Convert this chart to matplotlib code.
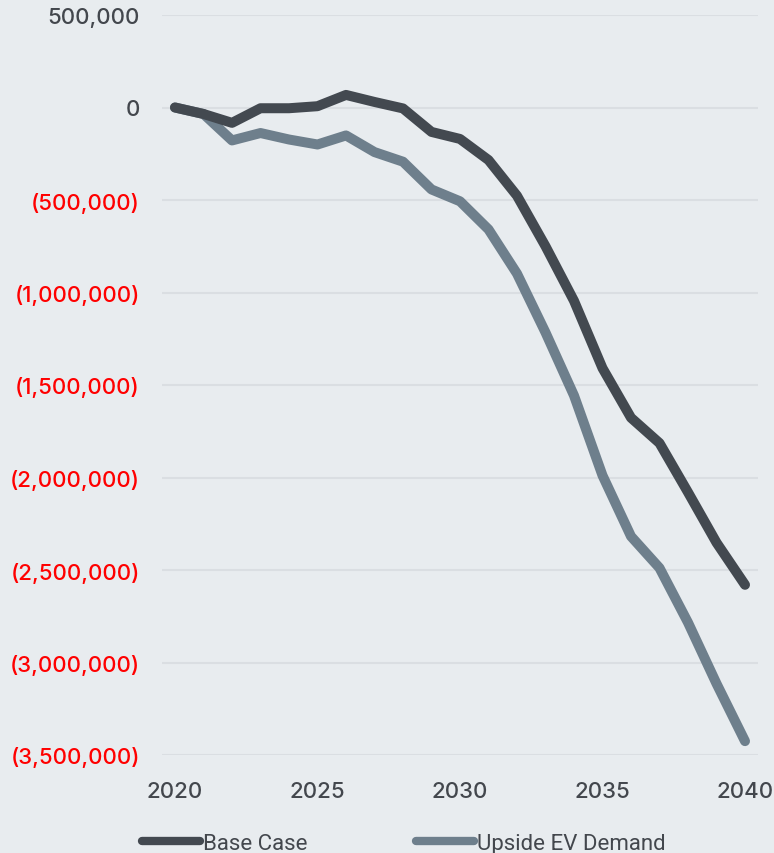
import matplotlib
matplotlib.use("Agg")
import matplotlib.pyplot as plt
from matplotlib.ticker import FuncFormatter

years = list(range(2020, 2041))
base_case = [0, -35000, -83000, -4000, -4000, 7000, 68000, 30000, -5000,
             -132000, -170000, -284000, -477000, -750000, -1045000, -1409000,
             -1677000, -1814000, -2080000, -2352000, -2580000]
upside_ev = [0, -35000, -178000, -138000, -173000, -200000, -151000, -241000,
             -293000, -443000, -507000, -659000, -898000, -1216000, -1557000,
             -1989000, -2318000, -2489000, -2784000, -3114000, -3425000]
series_names = ["Base Case", "Upside EV Demand"]
y_ticks = [500000, 0, -500000, -1000000, -1500000, -2000000, -2500000,
           -3000000, -3500000]
x_ticks = [2020, 2025, 2030, 2035, 2040]

plt.rcParams['font.family'] = ['Inter', 'DejaVu Sans']

BG = "#e8ecef"
fig = plt.figure(figsize=(7.74, 8.54), dpi=100, facecolor=BG)
ax = fig.add_axes([162/774, 1-756/854, (758-162)/774, (756-16)/854])
ax.set_facecolor(BG)

ax.plot(years, base_case, color="#434950", lw=7.2, solid_capstyle="round",
        solid_joinstyle="round", label=series_names[0], zorder=3)
ax.plot(years, upside_ev, color="#6e7f8c", lw=7.2, solid_capstyle="round",
        solid_joinstyle="round", label=series_names[1], zorder=2)

ax.set_xlim(2020 - 13/28.5, 2040 + 13/28.5)
ax.set_ylim(-3500000, 500000)
ax.set_yticks(y_ticks)
ax.set_xticks(x_ticks)

def fmt(v, pos):
    v = int(round(v))
    if v < 0:
        return "({:,})".format(-v)
    return "{:,}".format(v)

ax.yaxis.set_major_formatter(FuncFormatter(fmt))
ax.grid(axis="y", color="#dadee2", lw=1.5)
ax.set_axisbelow(True)
for s in ax.spines.values():
    s.set_visible(False)
ax.tick_params(axis="both", length=0, labelsize=16, labelcolor="#43474d")
ax.tick_params(axis="y", pad=16)
ax.tick_params(axis="x", pad=18.5)
for lbl, v in zip(ax.get_yticklabels(), y_ticks):
    lbl.set_fontweight("medium")
    if v < 0:
        lbl.set_color("#ff0000")
for lbl in ax.get_xticklabels():
    lbl.set_fontweight("medium")

leg = fig.legend(loc="center", bbox_to_anchor=(0.522, 0.0115), ncol=2,
                 frameon=False, handlelength=2.6,
                 handletextpad=0.13, columnspacing=4.9,
                 prop={"family": ["Roboto", "DejaVu Sans"], "size": 16},
                 labelcolor="#43474d")
for h in leg.get_lines():
    h.set_linewidth(6)

fig.savefig("out.png", dpi=100, facecolor=BG)
